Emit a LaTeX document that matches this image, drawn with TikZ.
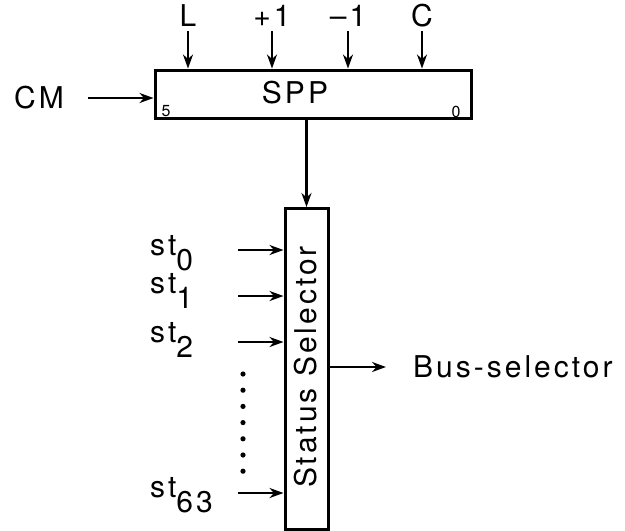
\documentclass[tikz,border=0pt]{standalone}
\usepackage{fontspec}
\setmainfont{TeX Gyre Heros}[LetterSpace=10]
\usetikzlibrary{arrows.meta}

\begin{document}
\begin{tikzpicture}[x=1pt,y=-1pt,
    sig/.style={-{Stealth[length=14pt,width=10pt]},line width=2.6pt},
    pin/.style={inner sep=0pt,minimum size=0pt},
    lbl/.style={font=\fontsize{30}{32}\selectfont,inner sep=0pt},
    tiny lbl/.style={font=\fontsize{16}{17}\selectfont,inner sep=0pt},
    box/.style={draw,line width=3pt,inner sep=0pt}]
  \useasboundingbox (0,0) rectangle (625,531);
  % register and selector
  \node[box,minimum width=316pt,minimum height=48pt] (spp) at (313,94) {};
  \node[lbl] (sppt) at (295,93) {SPP};
  \node[tiny lbl] (msb) at (166,111) {5};
  \node[tiny lbl] (lsb) at (456,112) {0};
  \node[box,minimum width=43pt,minimum height=321pt] (stat) at (306.5,369) {};
  \node[lbl,rotate=90] (statt) at (306,367) {Status Selector};
  % control inputs
  \foreach \xx/\txt/\nm in {188/L/ld,272/+1/inc,348/--1/dec,422/C/clr} {
    \node[lbl] (\nm t) at (\xx,16) {\txt};
    \node[pin] (\nm) at (\xx,31) {};
    \draw[sig] (\nm.center) -- (\nm.center |- spp.north);
  }
  \node[lbl,anchor=west] (cm) at (14,98) {CM};
  \node[pin] (cmin) at (88,98) {};
  \draw[sig] (cmin.center) -- (cmin.center -| spp.west);
  \draw[sig] (stat.north |- spp.south) -- (stat.north);
  % status inputs
  \foreach \yy/\bb/\sub in {250/255/0,296/293/1,342/342/2,493/497/63} {
    \node[lbl,anchor=base west] (st\sub) at (150,\bb) {st\raisebox{-15pt}{\sub}};
    \node[pin] (in\sub) at (238,\yy) {};
    \draw[sig] (in\sub.center) -- (in\sub.center -| stat.west);
  }
  \foreach \k in {0,...,6}
    \fill (243,374+16.2*\k) circle (2.6pt);
  % output
  \node[lbl,anchor=west] (bus) at (413,367) {Bus-selector};
  \node[pin] (busin) at (386,367) {};
  \draw[sig] (busin.center -| stat.east) -- (busin.center);
\end{tikzpicture}
\end{document}
